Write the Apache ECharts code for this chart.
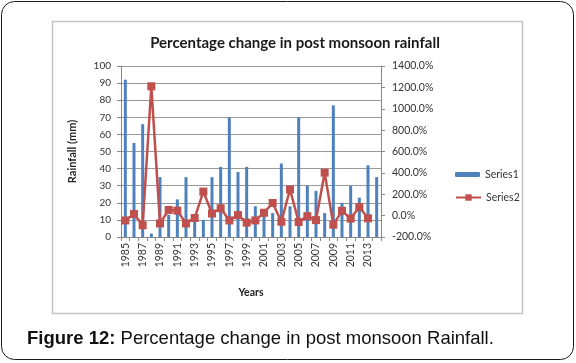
<!DOCTYPE html>
<html>
<head>
<meta charset="utf-8">
<script src="https://cdn.jsdelivr.net/npm/echarts@6/dist/echarts.min.js"></script>
<style>
html,body{margin:0;padding:0;background:#fff;}
#c{width:576px;height:363px;}
</style>
</head>
<body>
<div id="c"></div>
<script>
const years = ['1985','1986','1987','1988','1989','1990','1991','1992','1993','1994',
  '1995','1996','1997','1998','1999','2000','2001','2002','2003','2004',
  '2005','2006','2007','2008','2009','2010','2011','2012','2013','2014'];
const rainfall = [92,55,66,2,35,13,22,35,9,10,
  35,41,70,38,41,18,13,14,43,18,
  70,30,27,14,77,20,30,23,42,35];
const pctChange = [-45,15,-90,1210,-73,53,47,-73,-22,225,
  20,69,-45,5,-65,-45,27,118,-57,245,
  -60,-5,-42,402,-85,45,-28,80,-25,null];
const leftTicks = {min:0, max:100, step:10};
const rightTicks = {min:-200, max:1400, step:200};

const chart = echarts.init(document.getElementById('c'), null, {renderer:'canvas'});
const font = 'Lato, "Open Sans", sans-serif';
chart.setOption({
  animation:false,
  backgroundColor:'#fff',
  grid:{left:121, right:195, top:66, bottom:126, containLabel:false},
  legend:[
    {data:['Series1'], orient:'vertical', left:455, top:169, padding:0, itemWidth:25, itemHeight:5,
     textStyle:{fontFamily:font, fontSize:10.5, color:'#333'}, itemGap:4},
    {data:['Series2'], orient:'vertical', left:455, top:192, padding:0, itemWidth:25, itemHeight:8,
     textStyle:{fontFamily:font, fontSize:10.5, color:'#333'}, itemGap:4}
  ],
  xAxis:{
    type:'category', data:years, boundaryGap:true,
    name:'Years', nameLocation:'middle', nameGap:50,
    nameTextStyle:{fontFamily:font, fontSize:10.5, fontWeight:'bold', color:'#222'},
    axisLine:{lineStyle:{color:'#888'}},
    axisTick:{show:true, length:4, interval:0, lineStyle:{color:'#888'}},
    axisLabel:{rotate:90, interval:1, fontFamily:font, fontSize:10.5, color:'#333', margin:6}
  },
  yAxis:[
    {type:'value', position:'left', min:leftTicks.min, max:leftTicks.max, interval:leftTicks.step,
     name:'Rainfall (mm)', nameLocation:'middle', nameGap:43, nameRotate:90,
     nameTextStyle:{fontFamily:font, fontSize:11, fontWeight:'bold', color:'#222'},
     axisLine:{show:true, lineStyle:{color:'#888'}},
     axisTick:{show:true, length:4, lineStyle:{color:'#888'}},
     splitLine:{show:true, lineStyle:{color:'#999', width:1}},
     axisLabel:{fontFamily:font, fontSize:10, color:'#333', margin:10}},
    {type:'value', position:'right', min:rightTicks.min, max:rightTicks.max, interval:rightTicks.step,
     axisLine:{show:true, lineStyle:{color:'#888'}},
     axisTick:{show:true, length:4, lineStyle:{color:'#888'}},
     splitLine:{show:false},
     axisLabel:{fontFamily:font, fontSize:10.5, color:'#333', margin:11,
       formatter:function(v){return v.toFixed(1)+'%';}}}
  ],
  series:[
    {name:'Series1', type:'bar', data:rainfall, barWidth:3, yAxisIndex:0,
     itemStyle:{color:'#4F81BD'}},
    {name:'Series2', type:'line', data:pctChange, yAxisIndex:1,
     symbol:'rect', symbolSize:8, showAllSymbol:true,
     lineStyle:{color:'#C0504D', width:2.5},
     itemStyle:{color:'#C0504D'}}
  ],
  graphic:[
    {type:'rect', silent:true, z:-1, shape:{x:1.5, y:1.5, width:572, height:358, r:13},
     style:{fill:null, stroke:'#1a1a1a', lineWidth:1}},
    {type:'rect', silent:true, z:-1, shape:{x:52.5, y:21.5, width:470, height:292},
     style:{fill:null, stroke:'#c4c4c4', lineWidth:1.5}},
    {type:'text', x:295, y:43,
     style:{text:'Percentage change in post monsoon rainfall', align:'center', verticalAlign:'middle',
       font:'bold 15px Lato, "Open Sans", sans-serif', fill:'#1a1a1a'}},
    {type:'text', x:27, y:339,
     style:{text:'{b|Figure 12:} Percentage change in post monsoon Rainfall.', verticalAlign:'middle',
       font:'18.5px "Liberation Sans", Arial, sans-serif', fill:'#111',
       rich:{b:{font:'bold 18.5px "Liberation Sans", Arial, sans-serif', fill:'#111'}}}}
  ]
});
</script>
</body>
</html>
